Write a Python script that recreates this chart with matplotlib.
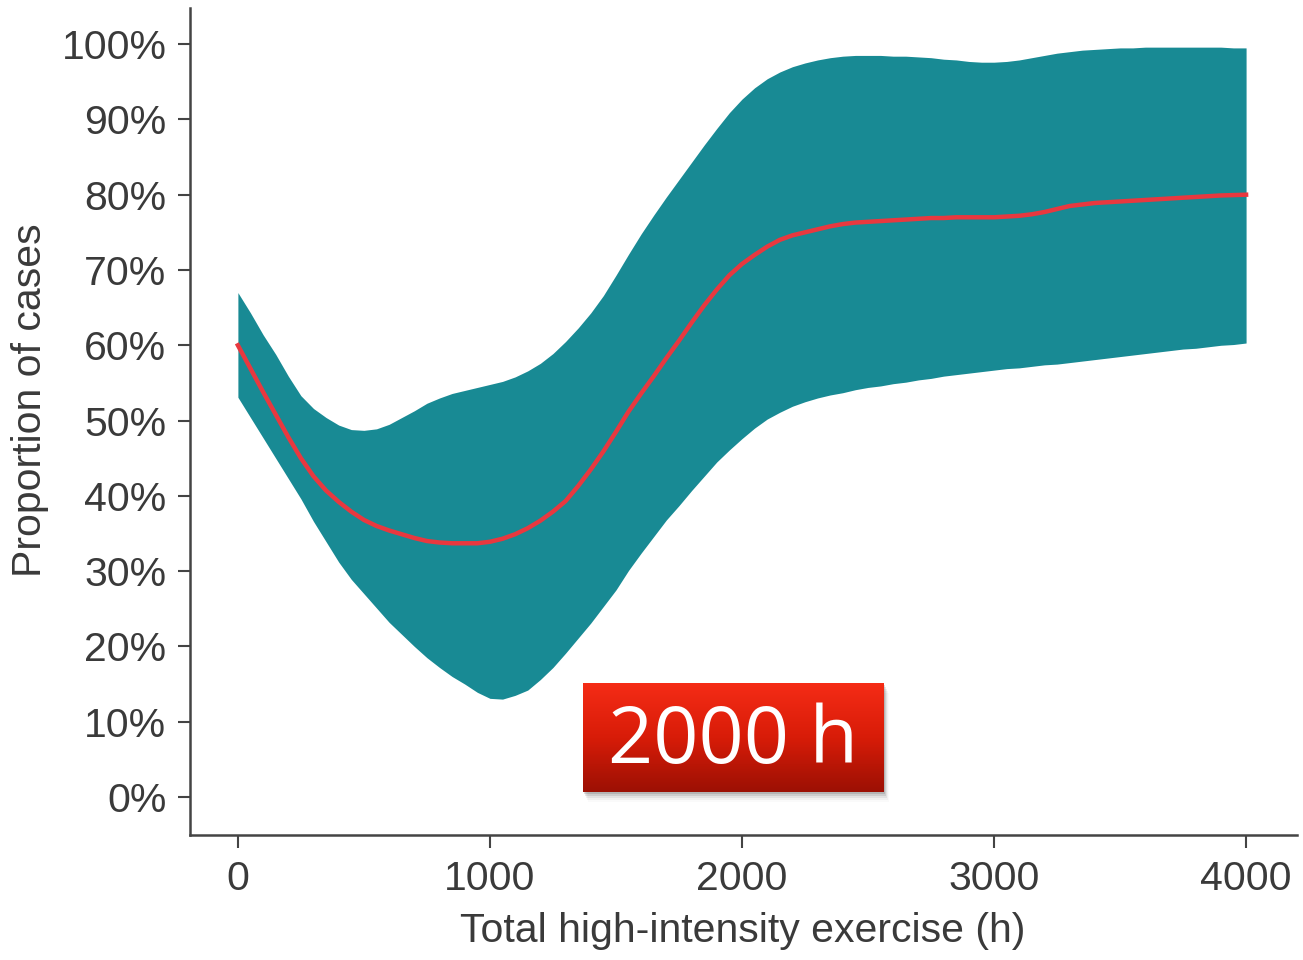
import matplotlib.pyplot as plt
import numpy as np
from matplotlib.colors import LinearSegmentedColormap

# Horas totales de ejercicio de alta intensidad (cada 50 h)
horas = list(range(0, 4001, 50))

# Proporción estimada (%)
media = [60.0, 56.9, 53.8, 50.8, 47.8, 45.0, 42.6, 40.7, 39.2, 37.9,
         36.8, 36.0, 35.4, 34.9, 34.4, 34.0, 33.8, 33.7, 33.7, 33.7,
         33.9, 34.3, 34.9, 35.7, 36.7, 37.9, 39.3, 41.3, 43.5, 45.9,
         48.5, 51.2, 53.6, 55.9, 58.3, 60.6, 63.0, 65.3, 67.4, 69.3,
         70.8, 72.0, 73.1, 74.0, 74.6, 75.0, 75.4, 75.8, 76.1, 76.3,
         76.4, 76.5, 76.6, 76.7, 76.8, 76.9, 76.9, 77.0, 77.0, 77.0,
         77.0, 77.1, 77.2, 77.4, 77.7, 78.1, 78.5, 78.7, 78.9, 79.0,
         79.1, 79.2, 79.3, 79.4, 79.5, 79.6, 79.7, 79.8, 79.9, 79.95,
         80.0]
# Banda de confianza: límite superior e inferior (%)
superior = [67.0, 64.3, 61.4, 58.8, 55.9, 53.3, 51.6, 50.4, 49.4, 48.8,
            48.7, 48.9, 49.5, 50.4, 51.3, 52.3, 53.0, 53.6, 54.0, 54.4,
            54.8, 55.2, 55.8, 56.6, 57.6, 58.9, 60.5, 62.3, 64.3, 66.6,
            69.3, 72.1, 74.8, 77.3, 79.7, 82.0, 84.3, 86.6, 88.8, 90.9,
            92.7, 94.2, 95.4, 96.3, 97.0, 97.5, 97.9, 98.2, 98.4, 98.5,
            98.5, 98.5, 98.4, 98.4, 98.3, 98.2, 98.0, 97.9, 97.7, 97.6,
            97.6, 97.7, 97.9, 98.2, 98.5, 98.8, 99.0, 99.2, 99.3, 99.4,
            99.5, 99.5, 99.6, 99.6, 99.6, 99.6, 99.6, 99.6, 99.6, 99.5,
            99.5]
inferior = [53.1, 50.4, 47.7, 45.0, 42.3, 39.6, 36.6, 33.9, 31.2, 28.9,
            27.0, 25.1, 23.2, 21.6, 20.0, 18.5, 17.2, 16.0, 15.0, 13.9,
            13.1, 13.0, 13.5, 14.2, 15.6, 17.2, 19.1, 21.1, 23.1, 25.3,
            27.5, 30.1, 32.4, 34.6, 36.8, 38.7, 40.7, 42.6, 44.5, 46.1,
            47.6, 49.0, 50.2, 51.1, 51.9, 52.5, 53.0, 53.4, 53.7, 54.1,
            54.4, 54.6, 54.9, 55.1, 55.4, 55.6, 55.9, 56.1, 56.3, 56.5,
            56.7, 56.9, 57.0, 57.2, 57.4, 57.5, 57.7, 57.9, 58.1, 58.3,
            58.5, 58.7, 58.9, 59.1, 59.3, 59.5, 59.6, 59.8, 60.0, 60.1,
            60.3]

xticks = [0, 1000, 2000, 3000, 4000]
yticks = list(range(0, 101, 10))
etiqueta = '2000 h'

gris = '#3a3a3a'
plt.rcParams['font.family'] = ['Liberation Sans', 'DejaVu Sans']

fig = plt.figure(figsize=(13.03, 9.6), dpi=100)
ax = fig.add_axes([190 / 1303, 125 / 960, 1107 / 1303, 827 / 960])

ax.fill_between(horas, inferior, superior, color='#188a94', linewidth=0)
ax.plot(horas, media, color='#e8383f', linewidth=3.2)

ax.set_xlim(-190, 4202)
ax.set_ylim(-5.05, 104.8)
ax.set_xticks(xticks)
ax.set_xticklabels([str(t) for t in xticks])
ax.set_yticks(yticks)
ax.set_yticklabels([f'{t}%' for t in yticks])

for lado in ['top', 'right']:
    ax.spines[lado].set_visible(False)
for lado in ['left', 'bottom']:
    ax.spines[lado].set_color('#444444')
    ax.spines[lado].set_linewidth(1.8)

ax.tick_params(axis='both', length=9, width=1.5, color='#444444',
               labelsize=29.5, labelcolor=gris)
ax.tick_params(axis='y', pad=8)
ax.tick_params(axis='x', pad=9)

ax.set_xlabel('Total high-intensity exercise (h)', fontsize=29.5, color=gris)
ax.set_ylabel('Proportion of cases', fontsize=29.5, color=gris)
ax.xaxis.set_label_coords(0.4995, -0.093)
ax.yaxis.set_label_coords(-0.127, 0.526)

# Cartel rojo "2000 h"
x0, y0, w, h = 583 / 1303, (960 - 792) / 960, 301 / 1303, 109 / 960
for k, a in enumerate([0.12, 0.09, 0.06, 0.035, 0.02]):
    d = (k + 1) * 2
    sombra = plt.Rectangle((x0 + (k + 1) / 1303, y0 - d / 960), w, h,
                           transform=fig.transFigure, color='black',
                           alpha=a, linewidth=0, zorder=5)
    fig.add_artist(sombra)

cartel = fig.add_axes([x0, y0, w, h], zorder=10)
grad = np.linspace(0, 1, 100).reshape(-1, 1)
cmap = LinearSegmentedColormap.from_list('rojo', ['#f52c16', '#d81c08', '#9c1004'])
cartel.imshow(grad, aspect='auto', cmap=cmap, extent=[0, 1, 0, 1], origin='upper')
cartel.set_xlim(0, 1)
cartel.set_ylim(0, 1)
cartel.axis('off')
cartel.text(0.5, 0.45, etiqueta, color='white', fontsize=57,
            family=['Open Sans', 'DejaVu Sans'], ha='center', va='center')

fig.savefig('out.png', dpi=100)
